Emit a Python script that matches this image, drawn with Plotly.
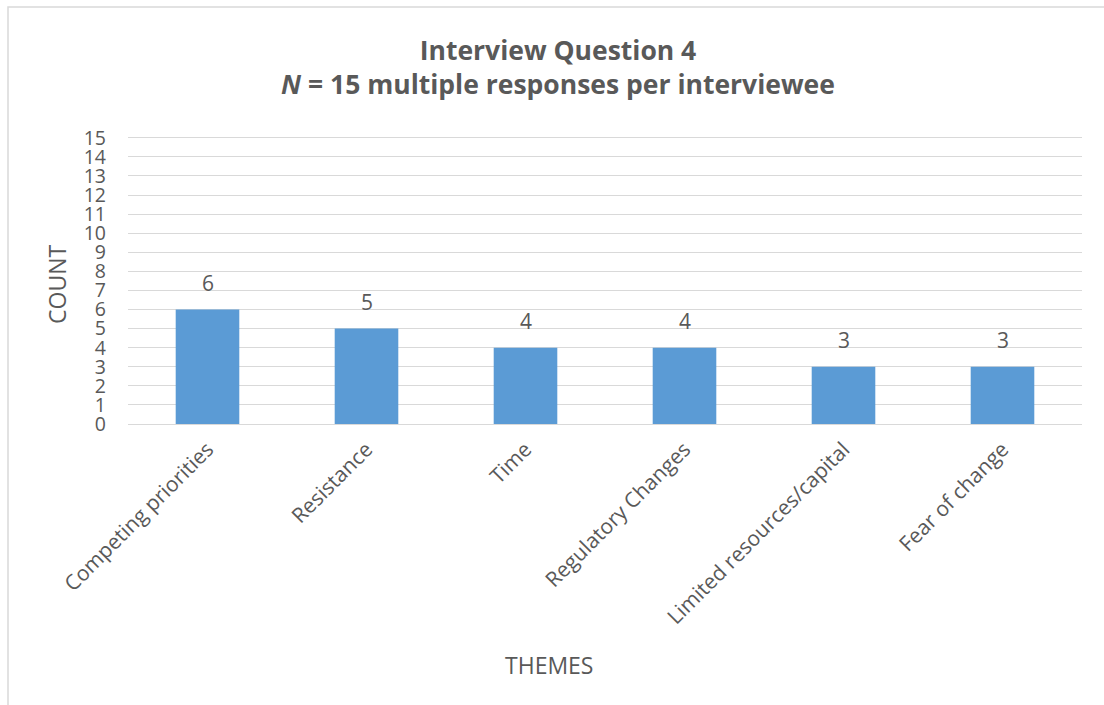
import plotly.graph_objects as go

# Interview question 4: counts of themes raised by interviewees
themes = [
    "Competing priorities",
    "Resistance",
    "Time",
    "Regulatory Changes",
    "Limited resources/capital",
    "Fear of change",
]
counts = [6, 5, 4, 4, 3, 3]
y_ticks = list(range(0, 16))

W, H = 1104, 705
ML, MR, MT, MB = 128, 22, 134, 281
TEXT = "#595959"
FONT = "Open Sans"

fig = go.Figure(
    go.Bar(
        x=themes,
        y=counts,
        marker=dict(color="#5B9BD5", line=dict(width=0)),
        width=0.4,
        hoverinfo="x+y",
    )
)

# value labels above each bar
for t, c in zip(themes, counts):
    fig.add_annotation(
        x=t, y=c, text=str(c), showarrow=False,
        xref="x", yref="y", yanchor="bottom", yshift=11,
        font=dict(family=FONT, size=21, color=TEXT),
    )

pw = W - ML - MR
ph = H - MT - MB

# axis titles
fig.add_annotation(
    x=(57 - ML) / pw, y=(H - MB - 285) / ph, xref="paper", yref="paper",
    text="COUNT", textangle=-90, showarrow=False,
    xanchor="center", yanchor="middle",
    font=dict(family=FONT, size=23, color=TEXT),
)
fig.add_annotation(
    x=(549 - ML) / pw, y=(H - MB - 665) / ph, xref="paper", yref="paper",
    text="THEMES", showarrow=False,
    xanchor="center", yanchor="middle",
    font=dict(family=FONT, size=23, color=TEXT),
)

# chart-area border (top and left edges visible)
fig.add_shape(
    type="rect", xref="paper", yref="paper",
    x0=(8 - ML) / pw, x1=(W + 10 - ML) / pw,
    y0=(H - MB - (H + 10)) / ph, y1=(H - MB - 7) / ph,
    line=dict(color="#D9D9D9", width=1.5), fillcolor="rgba(0,0,0,0)",
    layer="below",
)

fig.update_layout(
    width=W, height=H,
    margin=dict(l=ML, r=MR, t=MT, b=MB),
    paper_bgcolor="white", plot_bgcolor="white",
    showlegend=False,
    title=dict(
        text="<b>Interview Question 4</b><br><b><i>N</i> = 15 multiple responses per interviewee</b>",
        x=558 / W, xanchor="center",
        y=1 - 60 / H, yanchor="middle", yref="container",
        font=dict(family=FONT, size=26.5, color=TEXT),
    ),
    bargap=0.6,
    xaxis=dict(
        tickangle=-45,
        tickfont=dict(family=FONT, size=21, color=TEXT),
        showgrid=False, showline=False, ticks="",
        ticklabelstandoff=8,
    ),
    yaxis=dict(
        range=[0, 15.2],
        tickvals=y_ticks,
        tickfont=dict(family=FONT, size=19.5, color=TEXT),
        showgrid=True, gridcolor="#D9D9D9", gridwidth=1.3,
        zeroline=True, zerolinecolor="#D9D9D9", zerolinewidth=1.3,
        showline=False, ticks="",
        ticklabelstandoff=21,
    ),
)

fig.write_html("out.html")
